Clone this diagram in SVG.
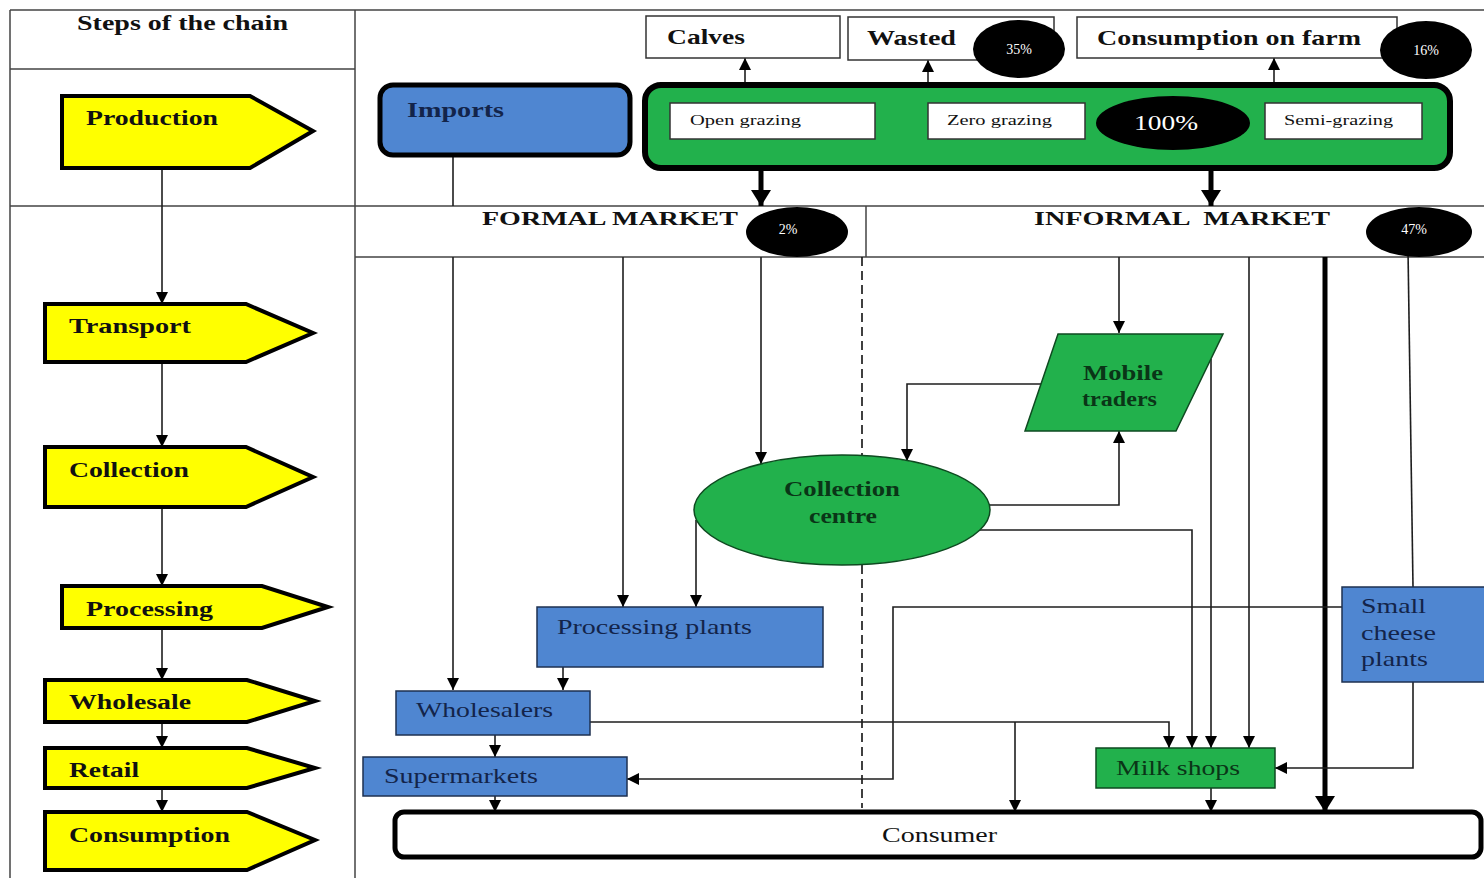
<svg xmlns="http://www.w3.org/2000/svg" width="1484" height="878" viewBox="0 0 1484 878">
  <style>
    .grid { stroke: #444; stroke-width: 1.5; fill: none; }
    .ln { stroke: #1e1e1e; stroke-width: 1.6; fill: none; }
    .thick { stroke: #000; stroke-width: 5; fill: none; }
    .step { fill: #ffff00; stroke: #000; stroke-width: 4; stroke-linejoin: miter; }
    .blue { fill: #4f86d1; stroke: #1e3050; stroke-width: 1.5; }
    .green { fill: #22b14c; stroke: #0e4a20; stroke-width: 1.5; }
    .white { fill: #fff; stroke: #333; stroke-width: 1.5; }
    .badge { fill: #000; }
    .t { font-family: "Liberation Serif", "Times New Roman", serif; }
    .b { font-weight: bold; }
    .dk { fill: #111; }
    .nv { fill: #13244a; }
    .dg { fill: #0a3517; }
    .wt { fill: #fff; }
  </style>
  <defs>
    <marker id="ah" markerUnits="userSpaceOnUse" markerWidth="14" markerHeight="14" refX="12" refY="6" orient="auto">
      <path d="M0,0 L12,6 L0,12 z" fill="#000"/>
    </marker>
    <marker id="ahBig" markerUnits="userSpaceOnUse" markerWidth="22" markerHeight="22" refX="16" refY="10" orient="auto">
      <path d="M0,0 L16,10 L0,20 z" fill="#000"/>
    </marker>
  </defs>

  <rect width="1484" height="878" fill="#fff"/>

  <!-- table frame -->
  <g id="frame" class="grid">
    <path d="M10,10 H1484 M10,10 V878 M355,10 V878 M10,69 H355 M10,206 H1484 M355,257 H1484 M866,206 V257"/>
    <path d="M862,257 V808" stroke="#111" stroke-width="1.6" stroke-dasharray="9,5"/>
  </g>

  <!-- connectors -->
  <g id="connectors">
    <!-- step chain -->
    <path class="ln" d="M162,168 V304" marker-end="url(#ah)"/>
    <path class="ln" d="M162,362 V447" marker-end="url(#ah)"/>
    <path class="ln" d="M162,507 V586" marker-end="url(#ah)"/>
    <path class="ln" d="M162,628 V680" marker-end="url(#ah)"/>
    <path class="ln" d="M162,722 V748" marker-end="url(#ah)"/>
    <path class="ln" d="M162,788 V812" marker-end="url(#ah)"/>

    <!-- production outputs -->
    <path class="ln" d="M745,85 V58" marker-end="url(#ah)"/>
    <path class="ln" d="M928,85 V60" marker-end="url(#ah)"/>
    <path class="ln" d="M1274,85 V58" marker-end="url(#ah)"/>
    <path class="thick" d="M761,168 V206" marker-end="url(#ahBig)"/>
    <path class="thick" d="M1211,168 V206" marker-end="url(#ahBig)"/>

    <!-- formal market -->
    <path class="ln" d="M453,155 V206"/>
    <path class="ln" d="M453,257 V690" marker-end="url(#ah)"/>
    <path class="ln" d="M623,257 V607" marker-end="url(#ah)"/>
    <path class="ln" d="M761,257 V464" marker-end="url(#ah)"/>
    <path class="ln" d="M696,520 V607" marker-end="url(#ah)"/>
    <path class="ln" d="M563,667 V690" marker-end="url(#ah)"/>
    <path class="ln" d="M495,735 V757" marker-end="url(#ah)"/>
    <path class="ln" d="M495,796 V812" marker-end="url(#ah)"/>
    <path class="ln" d="M590,722 H1169 V748" marker-end="url(#ah)"/>
    <path class="ln" d="M1015,722 V812" marker-end="url(#ah)"/>

    <!-- informal market -->
    <path class="ln" d="M1119,257 V333" marker-end="url(#ah)"/>
    <path class="ln" d="M1050,384 H907 V461" marker-end="url(#ah)"/>
    <path class="ln" d="M985,505 H1119 V431" marker-end="url(#ah)"/>
    <path class="ln" d="M965,530 H1192 V748" marker-end="url(#ah)"/>
    <path class="ln" d="M1211,359 V748" marker-end="url(#ah)"/>
    <path class="ln" d="M1249,257 V748" marker-end="url(#ah)"/>
    <path class="thick" d="M1325,257 V812" marker-end="url(#ahBig)"/>
    <path class="ln" d="M1408,250 L1413,587"/>
    <path class="ln" d="M1413,682 V768 H1275" marker-end="url(#ah)"/>
    <path class="ln" d="M1342,607 H893 V779 H627" marker-end="url(#ah)"/>
    <path class="ln" d="M1211,788 V812" stroke-width="3" marker-end="url(#ah)"/>
  </g>

  <!-- header -->
  <g id="header">
    <text class="t b dk" x="77" y="30" font-size="20" textLength="211" lengthAdjust="spacingAndGlyphs">Steps of the chain</text>
  </g>

  <!-- chain steps -->
  <g id="step-production">
    <path class="step" d="M62,96 H250 L313,131 L250,168 H62 Z"/>
    <text class="t b dk" x="86" y="125" font-size="21" textLength="132" lengthAdjust="spacingAndGlyphs">Production</text>
  </g>
  <g id="step-transport">
    <path class="step" d="M45,304 H246 L313,333 L246,362 H45 Z"/>
    <text class="t b dk" x="69" y="333" font-size="21" textLength="122" lengthAdjust="spacingAndGlyphs">Transport</text>
  </g>
  <g id="step-collection">
    <path class="step" d="M45,447 H246 L313,477 L246,507 H45 Z"/>
    <text class="t b dk" x="69" y="477" font-size="21" textLength="120" lengthAdjust="spacingAndGlyphs">Collection</text>
  </g>
  <g id="step-processing">
    <path class="step" d="M62,586 H262 L328,607 L262,628 H62 Z"/>
    <text class="t b dk" x="86" y="616" font-size="21" textLength="127" lengthAdjust="spacingAndGlyphs">Processing</text>
  </g>
  <g id="step-wholesale">
    <path class="step" d="M45,680 H247 L315,701 L247,722 H45 Z"/>
    <text class="t b dk" x="69" y="709" font-size="21" textLength="122" lengthAdjust="spacingAndGlyphs">Wholesale</text>
  </g>
  <g id="step-retail">
    <path class="step" d="M45,748 H247 L315,768 L247,788 H45 Z"/>
    <text class="t b dk" x="69" y="777" font-size="21" textLength="70" lengthAdjust="spacingAndGlyphs">Retail</text>
  </g>
  <g id="step-consumption">
    <path class="step" d="M45,812 H247 L315,840 L247,870 H45 Z"/>
    <text class="t b dk" x="69" y="842" font-size="21" textLength="161" lengthAdjust="spacingAndGlyphs">Consumption</text>
  </g>

  <!-- supply -->
  <g id="imports">
    <rect x="380" y="85" width="250" height="70" rx="13" fill="#4f86d1" stroke="#000" stroke-width="5"/>
    <text class="t b nv" x="407" y="117" font-size="21" textLength="97" lengthAdjust="spacingAndGlyphs">Imports</text>
  </g>
  <g id="production">
    <rect x="645" y="85" width="805" height="83" rx="16" fill="#22b14c" stroke="#000" stroke-width="6"/>
  </g>
  <g id="open-grazing">
    <rect class="white" x="670" y="103" width="205" height="36"/>
    <text class="t dk" x="690" y="125" font-size="15" textLength="111" lengthAdjust="spacingAndGlyphs">Open grazing</text>
  </g>
  <g id="zero-grazing">
    <rect class="white" x="928" y="103" width="157" height="36"/>
    <text class="t dk" x="947" y="125" font-size="15" textLength="105" lengthAdjust="spacingAndGlyphs">Zero grazing</text>
  </g>
  <g id="semi-grazing">
    <rect class="white" x="1265" y="103" width="157" height="36"/>
    <text class="t dk" x="1284" y="125" font-size="15" textLength="109" lengthAdjust="spacingAndGlyphs">Semi-grazing</text>
  </g>
  <g id="share-total">
    <ellipse class="badge" cx="1173" cy="123" rx="77" ry="27"/>
    <text class="t wt" x="1166" y="130" font-size="21" text-anchor="middle" textLength="64" lengthAdjust="spacingAndGlyphs">100%</text>
  </g>

  <!-- production outlets -->
  <g id="calves">
    <rect class="white" x="646" y="16" width="194" height="42"/>
    <text class="t b dk" x="667" y="44" font-size="21" textLength="78" lengthAdjust="spacingAndGlyphs">Calves</text>
  </g>
  <g id="wasted">
    <rect class="white" x="848" y="17" width="206" height="43"/>
    <text class="t b dk" x="867" y="45" font-size="21" textLength="89" lengthAdjust="spacingAndGlyphs">Wasted</text>
    <ellipse class="badge" cx="1019" cy="49" rx="46" ry="29"/>
    <text class="t wt" x="1019" y="54" font-size="14" text-anchor="middle">35%</text>
  </g>
  <g id="consumption-on-farm">
    <rect class="white" x="1077" y="17" width="320" height="41"/>
    <text class="t b dk" x="1097" y="45" font-size="21" textLength="264" lengthAdjust="spacingAndGlyphs">Consumption on farm</text>
    <ellipse class="badge" cx="1426" cy="50" rx="46" ry="29"/>
    <text class="t wt" x="1426" y="55" font-size="14" text-anchor="middle">16%</text>
  </g>

  <!-- market headers -->
  <g id="formal-market">
    <text class="t b dk" x="482" y="225" font-size="19" textLength="256" lengthAdjust="spacingAndGlyphs">FORMAL MARKET</text>
    <ellipse class="badge" cx="797" cy="232" rx="51" ry="25"/>
    <text class="t wt" x="788" y="234" font-size="14" text-anchor="middle">2%</text>
  </g>
  <g id="informal-market">
    <text class="t b dk" x="1034" y="225" font-size="19" textLength="296" lengthAdjust="spacingAndGlyphs" xml:space="preserve">INFORMAL  MARKET</text>
    <ellipse class="badge" cx="1419" cy="232" rx="53" ry="25"/>
    <text class="t wt" x="1414" y="234" font-size="14" text-anchor="middle">47%</text>
  </g>

  <!-- actors -->
  <g id="mobile-traders">
    <path class="green" d="M1058,334 H1223 L1176,431 H1025 Z"/>
    <text class="t b dg" x="1083" y="380" font-size="20" textLength="80" lengthAdjust="spacingAndGlyphs">Mobile</text>
    <text class="t b dg" x="1082" y="406" font-size="20" textLength="75" lengthAdjust="spacingAndGlyphs">traders</text>
  </g>
  <g id="collection-centre">
    <ellipse class="green" cx="842" cy="510" rx="148" ry="55"/>
    <text class="t b dg" x="784" y="496" font-size="20" textLength="116" lengthAdjust="spacingAndGlyphs">Collection</text>
    <text class="t b dg" x="809" y="523" font-size="20" textLength="68" lengthAdjust="spacingAndGlyphs">centre</text>
  </g>
  <g id="processing-plants">
    <rect class="blue" x="537" y="607" width="286" height="60"/>
    <text class="t nv" x="557" y="634" font-size="21" textLength="195" lengthAdjust="spacingAndGlyphs">Processing plants</text>
  </g>
  <g id="wholesalers">
    <rect class="blue" x="396" y="691" width="194" height="44"/>
    <text class="t nv" x="416" y="717" font-size="21" textLength="137" lengthAdjust="spacingAndGlyphs">Wholesalers</text>
  </g>
  <g id="supermarkets">
    <rect class="blue" x="363" y="757" width="264" height="39"/>
    <text class="t nv" x="384" y="783" font-size="21" textLength="154" lengthAdjust="spacingAndGlyphs">Supermarkets</text>
  </g>
  <g id="small-cheese-plants">
    <rect class="blue" x="1342" y="587" width="150" height="95"/>
    <text class="t nv" x="1361" y="613" font-size="21" textLength="65" lengthAdjust="spacingAndGlyphs">Small</text>
    <text class="t nv" x="1361" y="640" font-size="21" textLength="75" lengthAdjust="spacingAndGlyphs">cheese</text>
    <text class="t nv" x="1361" y="666" font-size="21" textLength="67" lengthAdjust="spacingAndGlyphs">plants</text>
  </g>
  <g id="milk-shops">
    <rect class="green" x="1096" y="748" width="179" height="40"/>
    <text class="t dg" x="1116" y="775" font-size="21" textLength="124" lengthAdjust="spacingAndGlyphs">Milk shops</text>
  </g>
  <g id="consumer">
    <rect x="395" y="812" width="1086" height="45" rx="9" fill="#fff" stroke="#000" stroke-width="5"/>
    <text class="t dk" x="882" y="842" font-size="21" textLength="115" lengthAdjust="spacingAndGlyphs">Consumer</text>
  </g>
</svg>
